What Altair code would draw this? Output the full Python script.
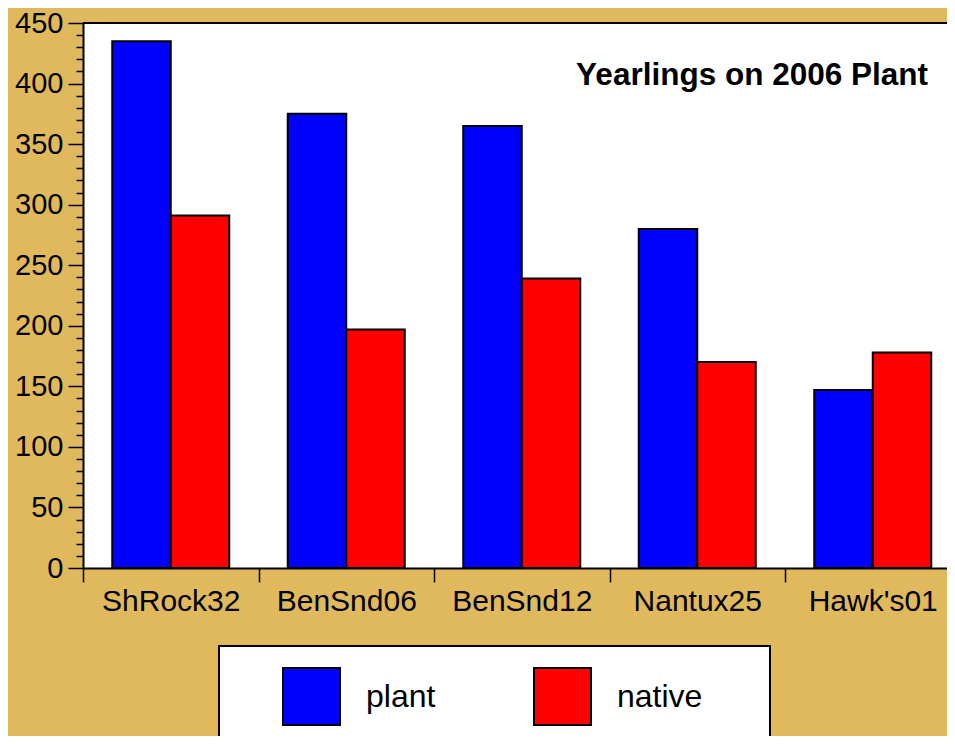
import altair as alt
import pandas as pd

categories = ["ShRock32", "BenSnd06", "BenSnd12", "Nantux25", "Hawk's01"]
plant = [435, 375, 365, 280, 147]
native = [291, 197, 239, 170, 178]
series = ["plant", "native"]
colors = ["#0000FF", "#FF0000"]
title_text = "Yearlings on 2006 Plant"
y_ticks = list(range(0, 451, 10))

rows = []
for i, c in enumerate(categories):
    rows.append({"site": c, "group": "plant", "count": plant[i]})
    rows.append({"site": c, "group": "native", "count": native[i]})
df = pd.DataFrame(rows)

W, H = 864, 545
XR = 877.5
STEP = XR / len(categories)
FONT = "Liberation Sans"

bars = alt.Chart(df).mark_bar(stroke="black", strokeWidth=2, opacity=1).encode(
    x=alt.X(
        "site:N",
        sort=categories,
        scale=alt.Scale(paddingInner=1 / 3, paddingOuter=1 / 6, range=[0, XR]),
        axis=alt.Axis(
            title=None, labelAngle=0, tickSize=14,
            tickOffset=-STEP / 2, labelOffset=STEP / 2,
            tickColor="black", tickWidth=1.5, domainColor="black", domainWidth=2,
            labelFont=FONT, labelFontSize=30, labelColor="black", labelPadding=4,
            grid=False,
        ),
    ),
    xOffset=alt.XOffset("group:N", sort=series, scale=alt.Scale(paddingInner=0, paddingOuter=0)),
    y=alt.Y(
        "count:Q",
        scale=alt.Scale(domain=[0, 450], nice=False),
        axis=alt.Axis(
            title=None, values=y_ticks,
            labelExpr="datum.value % 50 === 0 ? datum.label : ''",
            tickSize={"condition": {"test": "datum.value % 50 === 0", "value": 15}, "value": 7},
            labelFont=FONT, labelFontSize=29, labelColor="black", labelPadding=5,
            domainColor="black", domainWidth=2, tickColor="black", tickWidth=1.5,
            labelOverlap=False, grid=False, labelFlush=False,
        ),
    ),
    color=alt.Color(
        "group:N",
        sort=series,
        scale=alt.Scale(domain=series, range=colors),
        legend=alt.Legend(
            title=".", titleOrient="left", titleFontSize=10, titlePadding=39,
            titleColor="transparent",
            orient="none", legendX=136, legendY=623, direction="horizontal",
            fillColor="white", strokeColor="black", padding=21,
            symbolType="square", symbolSize=3249, symbolStrokeColor="black",
            symbolStrokeWidth=2, symbolOpacity=1,
            labelFont=FONT, labelFontSize=32, labelColor="black", labelOffset=25,
            columnPadding=94, labelLimit=400,
            labelExpr="datum.value === 'native' ? datum.label + '\u2800\u2800' : datum.label",
        ),
    ),
)

frame_top = alt.Chart(pd.DataFrame({"a": [0]})).mark_rule(color="black", strokeWidth=2).encode(
    x=alt.value(0), x2=alt.value(W), y=alt.value(0)
)

title = alt.Chart(pd.DataFrame({"t": [title_text]})).mark_text(
    align="right", baseline="alphabetic", font=FONT, fontSize=31.5,
    fontWeight="bold", color="black"
).encode(text="t:N", x=alt.value(845), y=alt.value(62))

chart = alt.layer(bars, frame_top, title).properties(
    width=W, height=H,
    padding={"left": 75, "top": 15, "right": 0, "bottom": 168},
    autosize=alt.AutoSizeParams(type="none"),
    background="#DFB95C",
).configure_view(fill="white", stroke="transparent").configure_legend(strokeWidth=2)

chart.save("out.html", embed_options={"renderer": "svg", "actions": False})
